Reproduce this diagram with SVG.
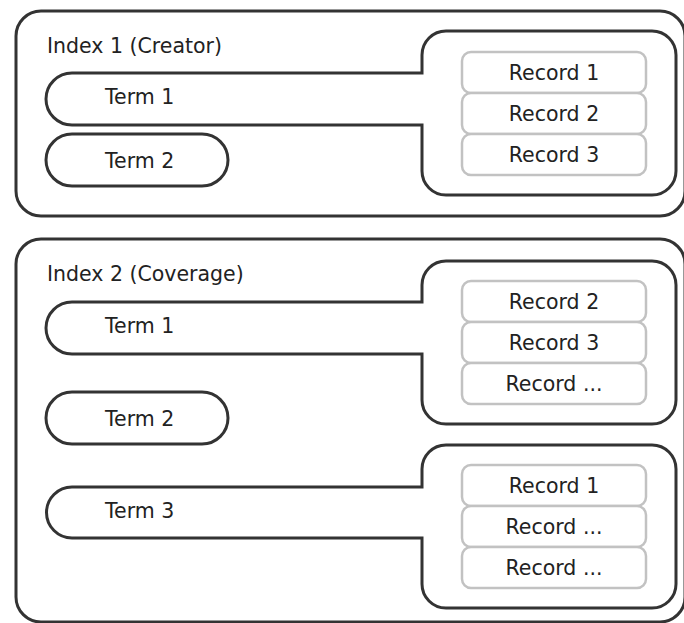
<svg xmlns="http://www.w3.org/2000/svg" width="684" height="623" viewBox="0 0 684 623">
  <style>
    .frame { fill: #ffffff; stroke: #333333; stroke-width: 3; }
    .shape { fill: #ffffff; stroke: #333333; stroke-width: 3; stroke-linejoin: miter; }
    .rec { fill: #ffffff; stroke: #c2c2c2; stroke-width: 2.5; }
    text { font-family: "DejaVu Sans", "Liberation Sans", sans-serif; font-size: 20.5px; fill: #222222; }
    .mid { text-anchor: middle; }
  </style>
  <rect width="684" height="623" fill="#ffffff"/>

  <!-- Index 1 -->
  <g id="index1">
    <rect class="frame" x="16" y="11" width="669" height="205" rx="25" ry="25"/>
    <text x="47" y="53">Index 1 (Creator)</text>
  </g>
  <!-- Term 1 joined with its posting list -->
  <g id="index1-term1">
    <path class="shape" d="M72,73 H422 V55 A24,24 0 0 1 446,31 H652 A24,24 0 0 1 676,55 V171 A24,24 0 0 1 652,195 H446 A24,24 0 0 1 422,171 V125 H72 A26,26 0 0 1 72,73 Z"/>
    <text x="105" y="104">Term 1</text>
  </g>
  <g id="index1-term2">
    <rect class="shape" x="46" y="134" width="182" height="52" rx="26" ry="26"/>
    <text x="105" y="168">Term 2</text>
  </g>
  <g id="index1-record1">
    <rect class="rec" x="462" y="52" width="184" height="41" rx="9" ry="9"/>
    <text class="mid" x="554" y="80">Record 1</text>
  </g>
  <g id="index1-record2">
    <rect class="rec" x="462" y="93" width="184" height="41" rx="9" ry="9"/>
    <text class="mid" x="554" y="121">Record 2</text>
  </g>
  <g id="index1-record3">
    <rect class="rec" x="462" y="134" width="184" height="41" rx="9" ry="9"/>
    <text class="mid" x="554" y="162">Record 3</text>
  </g>

  <!-- Index 2 -->
  <g id="index2">
    <rect class="frame" x="16" y="239" width="669" height="383" rx="25" ry="25"/>
    <text x="47" y="281">Index 2 (Coverage)</text>
  </g>
  <g id="index2-term1">
    <path class="shape" d="M72,302 H422 V285 A24,24 0 0 1 446,261 H652 A24,24 0 0 1 676,285 V400 A24,24 0 0 1 652,424 H446 A24,24 0 0 1 422,400 V354 H72 A26,26 0 0 1 72,302 Z"/>
    <text x="105" y="333">Term 1</text>
  </g>
  <g id="index2-term2">
    <rect class="shape" x="46" y="392" width="182" height="52" rx="26" ry="26"/>
    <text x="105" y="426">Term 2</text>
  </g>
  <g id="index2-term3">
    <path class="shape" d="M72,487 H422 V469 A24,24 0 0 1 446,445 H652 A24,24 0 0 1 676,469 V584 A24,24 0 0 1 652,608 H446 A24,24 0 0 1 422,584 V538 H72 A25.5,25.5 0 0 1 72,487 Z"/>
    <text x="105" y="518">Term 3</text>
  </g>
  <g id="index2-recordA1">
    <rect class="rec" x="462" y="281" width="184" height="41" rx="9" ry="9"/>
    <text class="mid" x="554" y="309">Record 2</text>
  </g>
  <g id="index2-recordA2">
    <rect class="rec" x="462" y="322" width="184" height="41" rx="9" ry="9"/>
    <text class="mid" x="554" y="350">Record 3</text>
  </g>
  <g id="index2-recordA3">
    <rect class="rec" x="462" y="363" width="184" height="41" rx="9" ry="9"/>
    <text class="mid" x="554" y="391">Record ...</text>
  </g>
  <g id="index2-recordB1">
    <rect class="rec" x="462" y="465" width="184" height="41" rx="9" ry="9"/>
    <text class="mid" x="554" y="493">Record 1</text>
  </g>
  <g id="index2-recordB2">
    <rect class="rec" x="462" y="506" width="184" height="41" rx="9" ry="9"/>
    <text class="mid" x="554" y="534">Record ...</text>
  </g>
  <g id="index2-recordB3">
    <rect class="rec" x="462" y="547" width="184" height="41" rx="9" ry="9"/>
    <text class="mid" x="554" y="575">Record ...</text>
  </g>

  <!-- term-to-posting joins are part of the term outlines above -->
  <g id="connectors"/>
</svg>
